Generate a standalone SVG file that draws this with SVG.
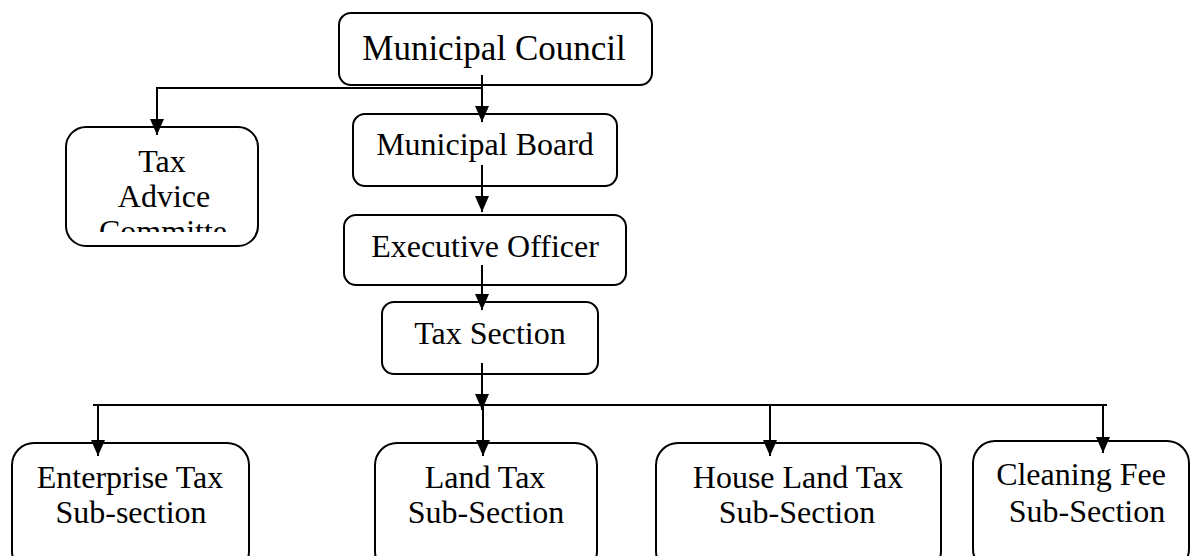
<svg xmlns="http://www.w3.org/2000/svg" width="1192" height="556" viewBox="0 0 1192 556">
<style>
.box{fill:#fff;stroke:#000;stroke-width:2}
.t{font-family:"Liberation Serif","Times New Roman",serif;font-size:32px;fill:#000;text-anchor:middle}
.c{fill:none;stroke:#000;stroke-width:2}
</style>
<defs>
<marker id="ah" markerUnits="userSpaceOnUse" markerWidth="16" markerHeight="16" viewBox="0 0 16 16" refX="16" refY="8" orient="auto">
<path d="M0,1 L16,8 L0,15 Z" fill="#000"/>
</marker>
<clipPath id="clipTA"><rect x="66" y="127" width="192" height="105"/></clipPath>
</defs>
<rect width="1192" height="556" fill="#fff"/>
<g id="n-council"><rect class="box" x="339" y="13" width="313" height="72" rx="12"/><text class="t" x="494" y="60" style="font-size:35px">Municipal Council</text></g>
<g id="n-advice"><rect class="box" x="66" y="127" width="192" height="119" rx="20"/><g clip-path="url(#clipTA)"><text class="t" x="162" y="172">Tax</text><text class="t" x="164" y="207">Advice</text><text class="t" x="163" y="242">Committe</text></g></g>
<g id="n-board"><rect class="box" x="353" y="114" width="264" height="72" rx="12"/><text class="t" x="485" y="155">Municipal Board</text></g>
<g id="n-exec"><rect class="box" x="344" y="215" width="282" height="70" rx="12"/><text class="t" x="485" y="257">Executive Officer</text></g>
<g id="n-taxsec"><rect class="box" x="382" y="302" width="216" height="72" rx="12"/><text class="t" x="490" y="344">Tax Section</text></g>
<g id="n-enterprise"><rect class="box" x="12" y="443" width="237" height="130" rx="22"/><text class="t" x="130" y="488">Enterprise Tax</text><text class="t" x="131" y="523">Sub-section</text></g>
<g id="n-land"><rect class="box" x="375" y="443" width="222" height="130" rx="22"/><text class="t" x="485" y="488">Land Tax</text><text class="t" x="486" y="523">Sub-Section</text></g>
<g id="n-house"><rect class="box" x="656" y="443" width="285" height="130" rx="22"/><text class="t" x="798" y="488">House Land Tax</text><text class="t" x="797" y="523">Sub-Section</text></g>
<g id="n-cleaning"><rect class="box" x="973" y="441" width="216" height="130" rx="22"/><text class="t" x="1081" y="485">Cleaning Fee</text><text class="t" x="1087" y="522">Sub-Section</text></g>
<g id="connectors">
<path class="c" d="M482,75 V122" marker-end="url(#ah)"/>
<path class="c" d="M482,88 H157 V135" marker-end="url(#ah)"/>
<path class="c" d="M482,165 V212" marker-end="url(#ah)"/>
<path class="c" d="M482,265 V310" marker-end="url(#ah)"/>
<path class="c" d="M482,363 V410" marker-end="url(#ah)"/>
<path class="c" d="M93,405 H1107"/>
<path class="c" d="M98,405 V456" marker-end="url(#ah)"/>
<path class="c" d="M483,405 V456" marker-end="url(#ah)"/>
<path class="c" d="M770,405 V456" marker-end="url(#ah)"/>
<path class="c" d="M1103,405 V453" marker-end="url(#ah)"/>
</g>
</svg>
